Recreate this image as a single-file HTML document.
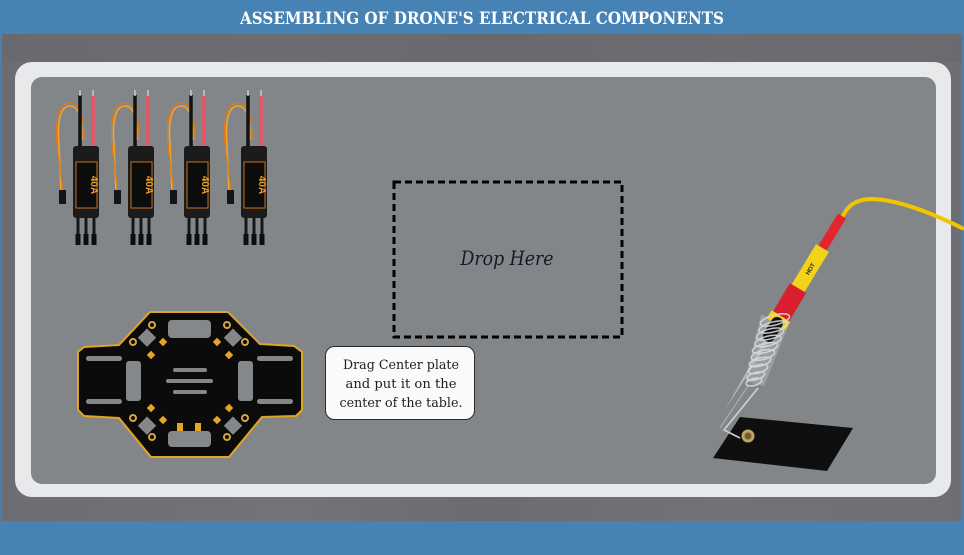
<!DOCTYPE html>
<html><head><meta charset="utf-8"><style>
html,body{margin:0;padding:0;width:964px;height:555px;overflow:hidden;background:#6f7176}
svg{display:block}
</style></head><body>
<svg width="964" height="555" viewBox="0 0 964 555" xmlns="http://www.w3.org/2000/svg">
<defs>
<linearGradient id="bg" x1="0" y1="0" x2="1" y2="0">
<stop offset="0" stop-color="#6b6d72"/><stop offset="0.3" stop-color="#72747a"/><stop offset="0.5" stop-color="#6a6c71"/><stop offset="0.75" stop-color="#717377"/><stop offset="1" stop-color="#6d6f74"/>
</linearGradient>
</defs>
<rect x="0" y="0" width="964" height="555" fill="url(#bg)"/>
<rect x="0" y="34" width="964" height="28" fill="#67696e" opacity="0.6"/>
<rect x="0" y="0" width="964" height="34" fill="#4682b4"/>
<rect x="0" y="34" width="2" height="488" fill="#4a7fae"/>
<rect x="962" y="34" width="2" height="488" fill="#4a7fae"/>
<rect x="0" y="521" width="964" height="34" fill="#4682b4"/>
<text x="482" y="24" fill="#fff" font-family="'DejaVu Serif','Liberation Serif',serif" font-weight="bold" font-size="17" text-anchor="middle" textLength="484" lengthAdjust="spacingAndGlyphs">ASSEMBLING OF DRONE'S ELECTRICAL COMPONENTS</text>

<!-- frame -->
<rect x="15" y="62" width="936" height="435" rx="17" fill="#e8e9eb"/>
<rect x="31" y="77" width="905" height="407" rx="11" fill="#838689"/>

<!-- ESCs -->
<g>
<path d="M82,140 C82,118 79,106 70,106 C60,106 57,122 59,145 L61,192" fill="none" stroke="#f2a52a" stroke-width="1.6"/>
<path d="M84,140 C84,116 80,103 70,103 C58,103 55,122 57,145 L63,192" fill="none" stroke="#e07a18" stroke-width="1.2"/>
<rect x="59" y="190" width="7" height="14" fill="#151515"/>
<line x1="80" y1="95" x2="80" y2="148" stroke="#121212" stroke-width="3.5"/>
<line x1="93" y1="95" x2="93" y2="148" stroke="#ee5068" stroke-width="3.5"/>
<line x1="80" y1="90" x2="80" y2="96" stroke="#ccc" stroke-width="1.5"/>
<line x1="93" y1="90" x2="93" y2="96" stroke="#ccc" stroke-width="1.5"/>
<rect x="73" y="146" width="26" height="72" rx="3" fill="#1b1b1c"/>
<rect x="76" y="162" width="21" height="46" fill="#0c0c0c" stroke="#c8701e" stroke-width="1"/>
<text x="0" y="0" transform="translate(91,185) rotate(90)" fill="#f0a020" font-family="'Liberation Sans',sans-serif" font-weight="bold" font-size="10" text-anchor="middle">40A</text>
<line x1="78" y1="217" x2="78" y2="238" stroke="#161616" stroke-width="3"/>
<line x1="86" y1="217" x2="86" y2="238" stroke="#161616" stroke-width="3"/>
<line x1="94" y1="217" x2="94" y2="238" stroke="#161616" stroke-width="3"/>
<rect x="75.5" y="234" width="5" height="11" fill="#0e0e0e"/>
<rect x="83.5" y="234" width="5" height="11" fill="#0e0e0e"/>
<rect x="91.5" y="234" width="5" height="11" fill="#0e0e0e"/>
</g>
<g transform="translate(55,0)">
<path d="M82,140 C82,118 79,106 70,106 C60,106 57,122 59,145 L61,192" fill="none" stroke="#f2a52a" stroke-width="1.6"/>
<path d="M84,140 C84,116 80,103 70,103 C58,103 55,122 57,145 L63,192" fill="none" stroke="#e07a18" stroke-width="1.2"/>
<rect x="59" y="190" width="7" height="14" fill="#151515"/>
<line x1="80" y1="95" x2="80" y2="148" stroke="#121212" stroke-width="3.5"/>
<line x1="93" y1="95" x2="93" y2="148" stroke="#ee5068" stroke-width="3.5"/>
<line x1="80" y1="90" x2="80" y2="96" stroke="#ccc" stroke-width="1.5"/>
<line x1="93" y1="90" x2="93" y2="96" stroke="#ccc" stroke-width="1.5"/>
<rect x="73" y="146" width="26" height="72" rx="3" fill="#1b1b1c"/>
<rect x="76" y="162" width="21" height="46" fill="#0c0c0c" stroke="#c8701e" stroke-width="1"/>
<text x="0" y="0" transform="translate(91,185) rotate(90)" fill="#f0a020" font-family="'Liberation Sans',sans-serif" font-weight="bold" font-size="10" text-anchor="middle">40A</text>
<line x1="78" y1="217" x2="78" y2="238" stroke="#161616" stroke-width="3"/>
<line x1="86" y1="217" x2="86" y2="238" stroke="#161616" stroke-width="3"/>
<line x1="94" y1="217" x2="94" y2="238" stroke="#161616" stroke-width="3"/>
<rect x="75.5" y="234" width="5" height="11" fill="#0e0e0e"/>
<rect x="83.5" y="234" width="5" height="11" fill="#0e0e0e"/>
<rect x="91.5" y="234" width="5" height="11" fill="#0e0e0e"/>
</g>
<g transform="translate(111,0)">
<path d="M82,140 C82,118 79,106 70,106 C60,106 57,122 59,145 L61,192" fill="none" stroke="#f2a52a" stroke-width="1.6"/>
<path d="M84,140 C84,116 80,103 70,103 C58,103 55,122 57,145 L63,192" fill="none" stroke="#e07a18" stroke-width="1.2"/>
<rect x="59" y="190" width="7" height="14" fill="#151515"/>
<line x1="80" y1="95" x2="80" y2="148" stroke="#121212" stroke-width="3.5"/>
<line x1="93" y1="95" x2="93" y2="148" stroke="#ee5068" stroke-width="3.5"/>
<line x1="80" y1="90" x2="80" y2="96" stroke="#ccc" stroke-width="1.5"/>
<line x1="93" y1="90" x2="93" y2="96" stroke="#ccc" stroke-width="1.5"/>
<rect x="73" y="146" width="26" height="72" rx="3" fill="#1b1b1c"/>
<rect x="76" y="162" width="21" height="46" fill="#0c0c0c" stroke="#c8701e" stroke-width="1"/>
<text x="0" y="0" transform="translate(91,185) rotate(90)" fill="#f0a020" font-family="'Liberation Sans',sans-serif" font-weight="bold" font-size="10" text-anchor="middle">40A</text>
<line x1="78" y1="217" x2="78" y2="238" stroke="#161616" stroke-width="3"/>
<line x1="86" y1="217" x2="86" y2="238" stroke="#161616" stroke-width="3"/>
<line x1="94" y1="217" x2="94" y2="238" stroke="#161616" stroke-width="3"/>
<rect x="75.5" y="234" width="5" height="11" fill="#0e0e0e"/>
<rect x="83.5" y="234" width="5" height="11" fill="#0e0e0e"/>
<rect x="91.5" y="234" width="5" height="11" fill="#0e0e0e"/>
</g>
<g transform="translate(168,0)">
<path d="M82,140 C82,118 79,106 70,106 C60,106 57,122 59,145 L61,192" fill="none" stroke="#f2a52a" stroke-width="1.6"/>
<path d="M84,140 C84,116 80,103 70,103 C58,103 55,122 57,145 L63,192" fill="none" stroke="#e07a18" stroke-width="1.2"/>
<rect x="59" y="190" width="7" height="14" fill="#151515"/>
<line x1="80" y1="95" x2="80" y2="148" stroke="#121212" stroke-width="3.5"/>
<line x1="93" y1="95" x2="93" y2="148" stroke="#ee5068" stroke-width="3.5"/>
<line x1="80" y1="90" x2="80" y2="96" stroke="#ccc" stroke-width="1.5"/>
<line x1="93" y1="90" x2="93" y2="96" stroke="#ccc" stroke-width="1.5"/>
<rect x="73" y="146" width="26" height="72" rx="3" fill="#1b1b1c"/>
<rect x="76" y="162" width="21" height="46" fill="#0c0c0c" stroke="#c8701e" stroke-width="1"/>
<text x="0" y="0" transform="translate(91,185) rotate(90)" fill="#f0a020" font-family="'Liberation Sans',sans-serif" font-weight="bold" font-size="10" text-anchor="middle">40A</text>
<line x1="78" y1="217" x2="78" y2="238" stroke="#161616" stroke-width="3"/>
<line x1="86" y1="217" x2="86" y2="238" stroke="#161616" stroke-width="3"/>
<line x1="94" y1="217" x2="94" y2="238" stroke="#161616" stroke-width="3"/>
<rect x="75.5" y="234" width="5" height="11" fill="#0e0e0e"/>
<rect x="83.5" y="234" width="5" height="11" fill="#0e0e0e"/>
<rect x="91.5" y="234" width="5" height="11" fill="#0e0e0e"/>
</g>

<!-- center plate -->
<polygon points="150,312 228,312 260,344 294,346 302,352 302,410 296,416 262,417 229,457 151,457 119,418 84,416 78,410 78,352 84,347 119,345" fill="#0b0b0b" stroke="#e2a520" stroke-width="2" stroke-linejoin="round"/>
<g fill="#85888b">
<rect x="168" y="320" width="43" height="18" rx="4"/>
<rect x="168" y="431" width="43" height="16" rx="4"/>
<rect x="86" y="356" width="36" height="5" rx="2.5"/>
<rect x="86" y="399" width="36" height="5" rx="2.5"/>
<rect x="257" y="356" width="36" height="5" rx="2.5"/>
<rect x="257" y="399" width="36" height="5" rx="2.5"/>
<rect x="126" y="361" width="15" height="40" rx="3"/>
<rect x="238" y="361" width="15" height="40" rx="3"/>
<rect x="173" y="368" width="34" height="4" rx="2"/>
<rect x="166" y="379" width="47" height="4" rx="2"/>
<rect x="173" y="390" width="34" height="4" rx="2"/>
<rect x="141" y="331" width="13" height="13" transform="rotate(45 147 337)"/>
<rect x="227" y="331" width="13" height="13" transform="rotate(45 233 337)"/>
<rect x="141" y="419" width="13" height="13" transform="rotate(45 147 425)"/>
<rect x="227" y="419" width="13" height="13" transform="rotate(45 233 425)"/>
</g>
<g fill="none" stroke="#d9a53a" stroke-width="2">
<circle cx="152" cy="325" r="3"/><circle cx="133" cy="342" r="3"/>
<circle cx="227" cy="325" r="3"/><circle cx="245" cy="342" r="3"/>
<circle cx="133" cy="418" r="3"/><circle cx="152" cy="437" r="3"/>
<circle cx="227" cy="437" r="3"/><circle cx="245" cy="418" r="3"/>
</g>
<g fill="#e3a722">
<rect x="160" y="339" width="6" height="6" transform="rotate(45 163 342)"/>
<rect x="148" y="352" width="6" height="6" transform="rotate(45 151 355)"/>
<rect x="214" y="339" width="6" height="6" transform="rotate(45 217 342)"/>
<rect x="226" y="352" width="6" height="6" transform="rotate(45 229 355)"/>
<rect x="148" y="405" width="6" height="6" transform="rotate(45 151 408)"/>
<rect x="160" y="417" width="6" height="6" transform="rotate(45 163 420)"/>
<rect x="226" y="405" width="6" height="6" transform="rotate(45 229 408)"/>
<rect x="214" y="417" width="6" height="6" transform="rotate(45 217 420)"/>
<rect x="177" y="423" width="6" height="8"/>
<rect x="195" y="423" width="6" height="8"/>
</g>

<!-- drop zone -->
<rect x="394" y="182" width="228" height="155" fill="none" stroke="#000" stroke-width="3" stroke-dasharray="7,4"/>
<text x="507" y="265" fill="#151a2a" font-family="'DejaVu Serif','Liberation Serif',serif" font-style="italic" font-size="20" text-anchor="middle" textLength="93" lengthAdjust="spacingAndGlyphs">Drop Here</text>

<!-- tooltip -->
<rect x="325.5" y="346.5" width="149" height="73" rx="9" fill="#fafafa" stroke="#2a2a2a" stroke-width="1"/>
<g fill="#1e1e1e" font-family="'DejaVu Serif','Liberation Serif',serif" font-size="12.8" text-anchor="middle">
<text x="401" y="369" textLength="116" lengthAdjust="spacingAndGlyphs">Drag Center plate</text>
<text x="401" y="388" textLength="111" lengthAdjust="spacingAndGlyphs">and put it on the</text>
<text x="401" y="407" textLength="123" lengthAdjust="spacingAndGlyphs">center of the table.</text>
</g>

<!-- soldering stand base -->
<polygon points="740,417 853,428 827,471 713,458" fill="#0f0f10"/>
<circle cx="748" cy="436" r="6.5" fill="#bda565"/>
<circle cx="748" cy="436" r="3.5" fill="#6d5e33"/>
<polyline points="758,388 724,430 740,438" fill="none" stroke="#cfd2d5" stroke-width="1.6"/>
<polyline points="748,386 720,428" fill="none" stroke="#a9acaf" stroke-width="1.2"/>

<!-- cable -->
<path d="M842,218 C847,207 853,200 870,199 C896,199 930,212 964,229" fill="none" stroke="#f2c500" stroke-width="4"/>
<!-- coil back (translucent) -->
<polygon points="761,315 790,322 764,386 745,381" fill="#c9ccd0" opacity="0.35"/>
<!-- iron -->
<line x1="842" y1="216" x2="822.5" y2="248" stroke="#e3262d" stroke-width="9.5"/>
<line x1="822.5" y1="248" x2="796.8" y2="290.4" stroke="#f3d21a" stroke-width="15"/>
<text x="0" y="0" transform="translate(812,270) rotate(-59)" fill="#222" font-family="'Liberation Sans',sans-serif" font-weight="bold" font-size="6" text-anchor="middle">HOT</text>
<line x1="798" y1="288" x2="780.3" y2="317.8" stroke="#d81f2e" stroke-width="19"/>
<line x1="781" y1="316" x2="776" y2="324" stroke="#f3d21a" stroke-width="22"/>
<polygon points="772.1,336.3 767.9,333.7 725,410" fill="#b8babc"/>
<line x1="777" y1="323" x2="769" y2="336" stroke="#111" stroke-width="12" stroke-linecap="round"/>
<!-- coil -->
<g fill="none" stroke="#d8dbde" stroke-width="1.5" opacity="0.9">
<ellipse cx="775" cy="320" rx="15" ry="5" transform="rotate(-15 775 320)"/>
<ellipse cx="773" cy="327" rx="14.5" ry="5" transform="rotate(-15 773 327)"/>
<ellipse cx="770" cy="334" rx="14" ry="5" transform="rotate(-15 770 334)"/>
<ellipse cx="768" cy="341" rx="13.5" ry="4.8" transform="rotate(-15 768 341)"/>
<ellipse cx="765" cy="348" rx="13" ry="4.5" transform="rotate(-15 765 348)"/>
<ellipse cx="763" cy="355" rx="12" ry="4.5" transform="rotate(-15 763 355)"/>
<ellipse cx="760" cy="362" rx="11" ry="4" transform="rotate(-15 760 362)"/>
<ellipse cx="758" cy="369" rx="10" ry="4" transform="rotate(-15 758 369)"/>
<ellipse cx="756" cy="376" rx="9" ry="3.5" transform="rotate(-15 756 376)"/>
<ellipse cx="754" cy="382" rx="8" ry="3.5" transform="rotate(-15 754 382)"/>
</g>
</svg>
</body></html>
